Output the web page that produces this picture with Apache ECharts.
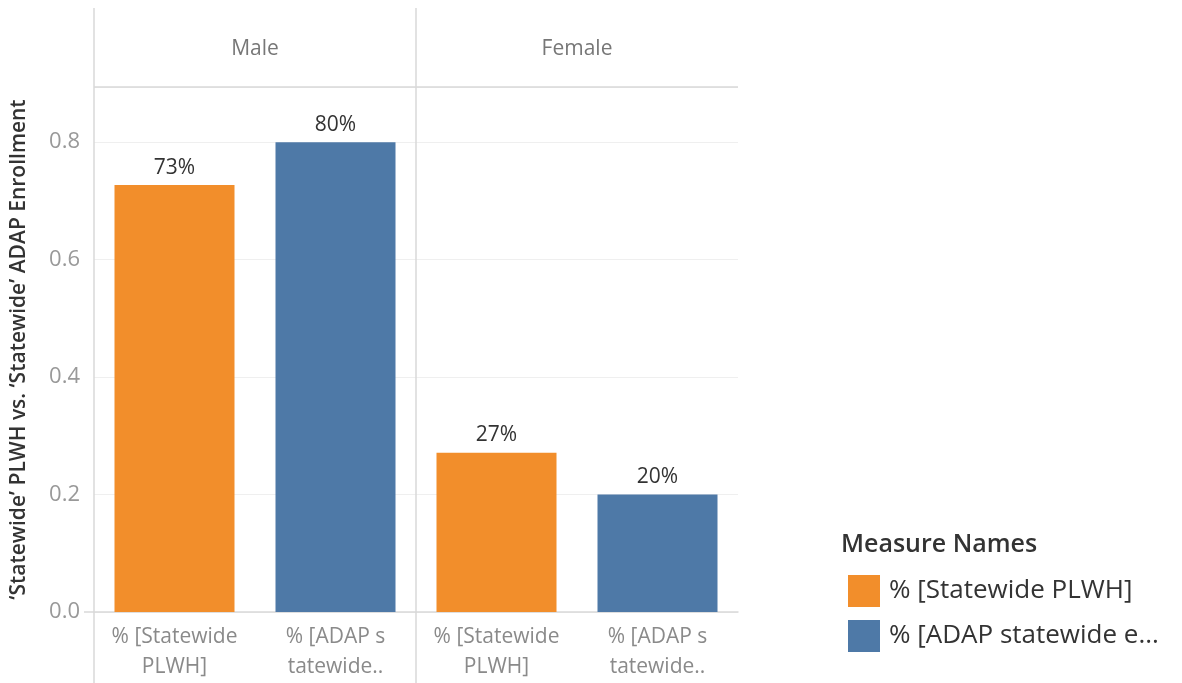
<!DOCTYPE html>
<html>
<head>
<meta charset="utf-8">
<script src="https://cdn.jsdelivr.net/npm/echarts@6/dist/echarts.min.js"></script>
<style>
html,body{margin:0;padding:0;background:#fff;}
#chart{width:1182px;height:683px;}
</style>
</head>
<body>
<div id="chart"></div>
<script>
// ---- data ----
const panels = ['Male', 'Female'];
const categories = ['% [Statewide\nPLWH]', '% [ADAP s\ntatewide..'];
const measureNames = ['% [Statewide PLWH]', '% [ADAP statewide e...'];
const statewidePLWH = [0.727, 0.271];   // Male, Female
const adapEnrollment = [0.800, 0.200];  // Male, Female
const yTicks = [0, 0.2, 0.4, 0.6, 0.8];

// ---- styling ----
const FONT = '"Open Sans", "Noto Sans", sans-serif';
const ORANGE = '#F28E2B';
const BLUE = '#4E79A7';
const LINE = '#d9d9d9';
const chart = echarts.init(document.getElementById('chart'));

const plotTop = 87, plotBottom = 683 - 612;
const panelLeft = [94, 416], panelWidth = 322;

const grids = panels.map((p, i) => ({
  left: panelLeft[i], width: panelWidth, top: plotTop, bottom: plotBottom, containLabel: false
}));

const xAxes = panels.map((p, i) => ({
  type: 'category', gridIndex: i, data: categories,
  axisLine: { show: true, lineStyle: { color: LINE, width: 1.5 } },
  axisTick: { show: false },
  axisLabel: { color: '#8a8a8a', fontSize: 21, fontFamily: FONT, lineHeight: 30, margin: 10, interval: 0 }
}));

const yAxes = panels.map((p, i) => ({
  type: 'value', gridIndex: i, min: 0, max: 0.894, interval: 0.2,
  name: i === 0 ? '\u2018Statewide\u2019 PLWH vs. \u2018Statewide\u2019 ADAP Enrollment' : '',
  nameLocation: 'middle', nameGap: 64,
  nameTextStyle: { color: '#333', fontSize: 21, fontWeight: 600, fontFamily: FONT },
  axisLine: { show: false },
  axisTick: { show: false },
  axisLabel: {
    show: i === 0, color: '#999', fontSize: 22, fontFamily: FONT, margin: 14,
    formatter: v => yTicks.some(t => Math.abs(t - v) < 1e-6) ? v.toFixed(1) : ''
  },
  splitLine: { show: true, lineStyle: { color: '#efefef', width: 1 } }
}));

const labelCfg = {
  show: true, position: 'top', distance: 7, color: '#333', fontSize: 21, fontFamily: FONT,
  formatter: p => Math.round(p.value * 100) + '%'
};

const series = [];
panels.forEach((p, i) => {
  series.push({
    name: measureNames[0], type: 'bar', xAxisIndex: i, yAxisIndex: i, stack: 's' + i,
    barWidth: 120, itemStyle: { color: ORANGE }, label: labelCfg,
    data: [statewidePLWH[i], '-']
  });
  series.push({
    name: measureNames[1], type: 'bar', xAxisIndex: i, yAxisIndex: i, stack: 's' + i,
    barWidth: 120, itemStyle: { color: BLUE }, label: labelCfg,
    data: ['-', adapEnrollment[i]]
  });
});

const option = {
  backgroundColor: '#fff',
  animation: false,
  title: {
    text: 'Measure Names', left: 836, top: 527,
    textStyle: { color: '#333', fontSize: 25, fontWeight: 600, fontFamily: FONT }
  },
  legend: {
    data: measureNames, orient: 'vertical', left: 843, top: 570,
    itemWidth: 32, itemHeight: 32, itemGap: 13, icon: 'rect',
    textStyle: { color: '#333', fontSize: 26, fontFamily: FONT, padding: [0, 0, 0, 4] }
  },
  grid: grids,
  xAxis: xAxes,
  yAxis: yAxes,
  series: series,
  graphic: [
    { type: 'line', shape: { x1: 94, y1: 8, x2: 94, y2: 683 }, style: { stroke: LINE, lineWidth: 1.5 }, z: 1 },
    { type: 'line', shape: { x1: 416, y1: 8, x2: 416, y2: 683 }, style: { stroke: LINE, lineWidth: 1.5 }, z: 1 },
    { type: 'line', shape: { x1: 94, y1: 87, x2: 738, y2: 87 }, style: { stroke: LINE, lineWidth: 1.5 }, z: 1 },
    { type: 'line', shape: { x1: 84, y1: 612, x2: 94, y2: 612 }, style: { stroke: LINE, lineWidth: 1.5 }, z: 1 },
    { type: 'text', x: 255, y: 49, style: { text: panels[0], fill: '#777', fontSize: 21, fontFamily: FONT, textAlign: 'center', textVerticalAlign: 'middle' } },
    { type: 'text', x: 577, y: 49, style: { text: panels[1], fill: '#777', fontSize: 21, fontFamily: FONT, textAlign: 'center', textVerticalAlign: 'middle' } }
  ]
};
chart.setOption(option);
</script>
</body>
</html>
